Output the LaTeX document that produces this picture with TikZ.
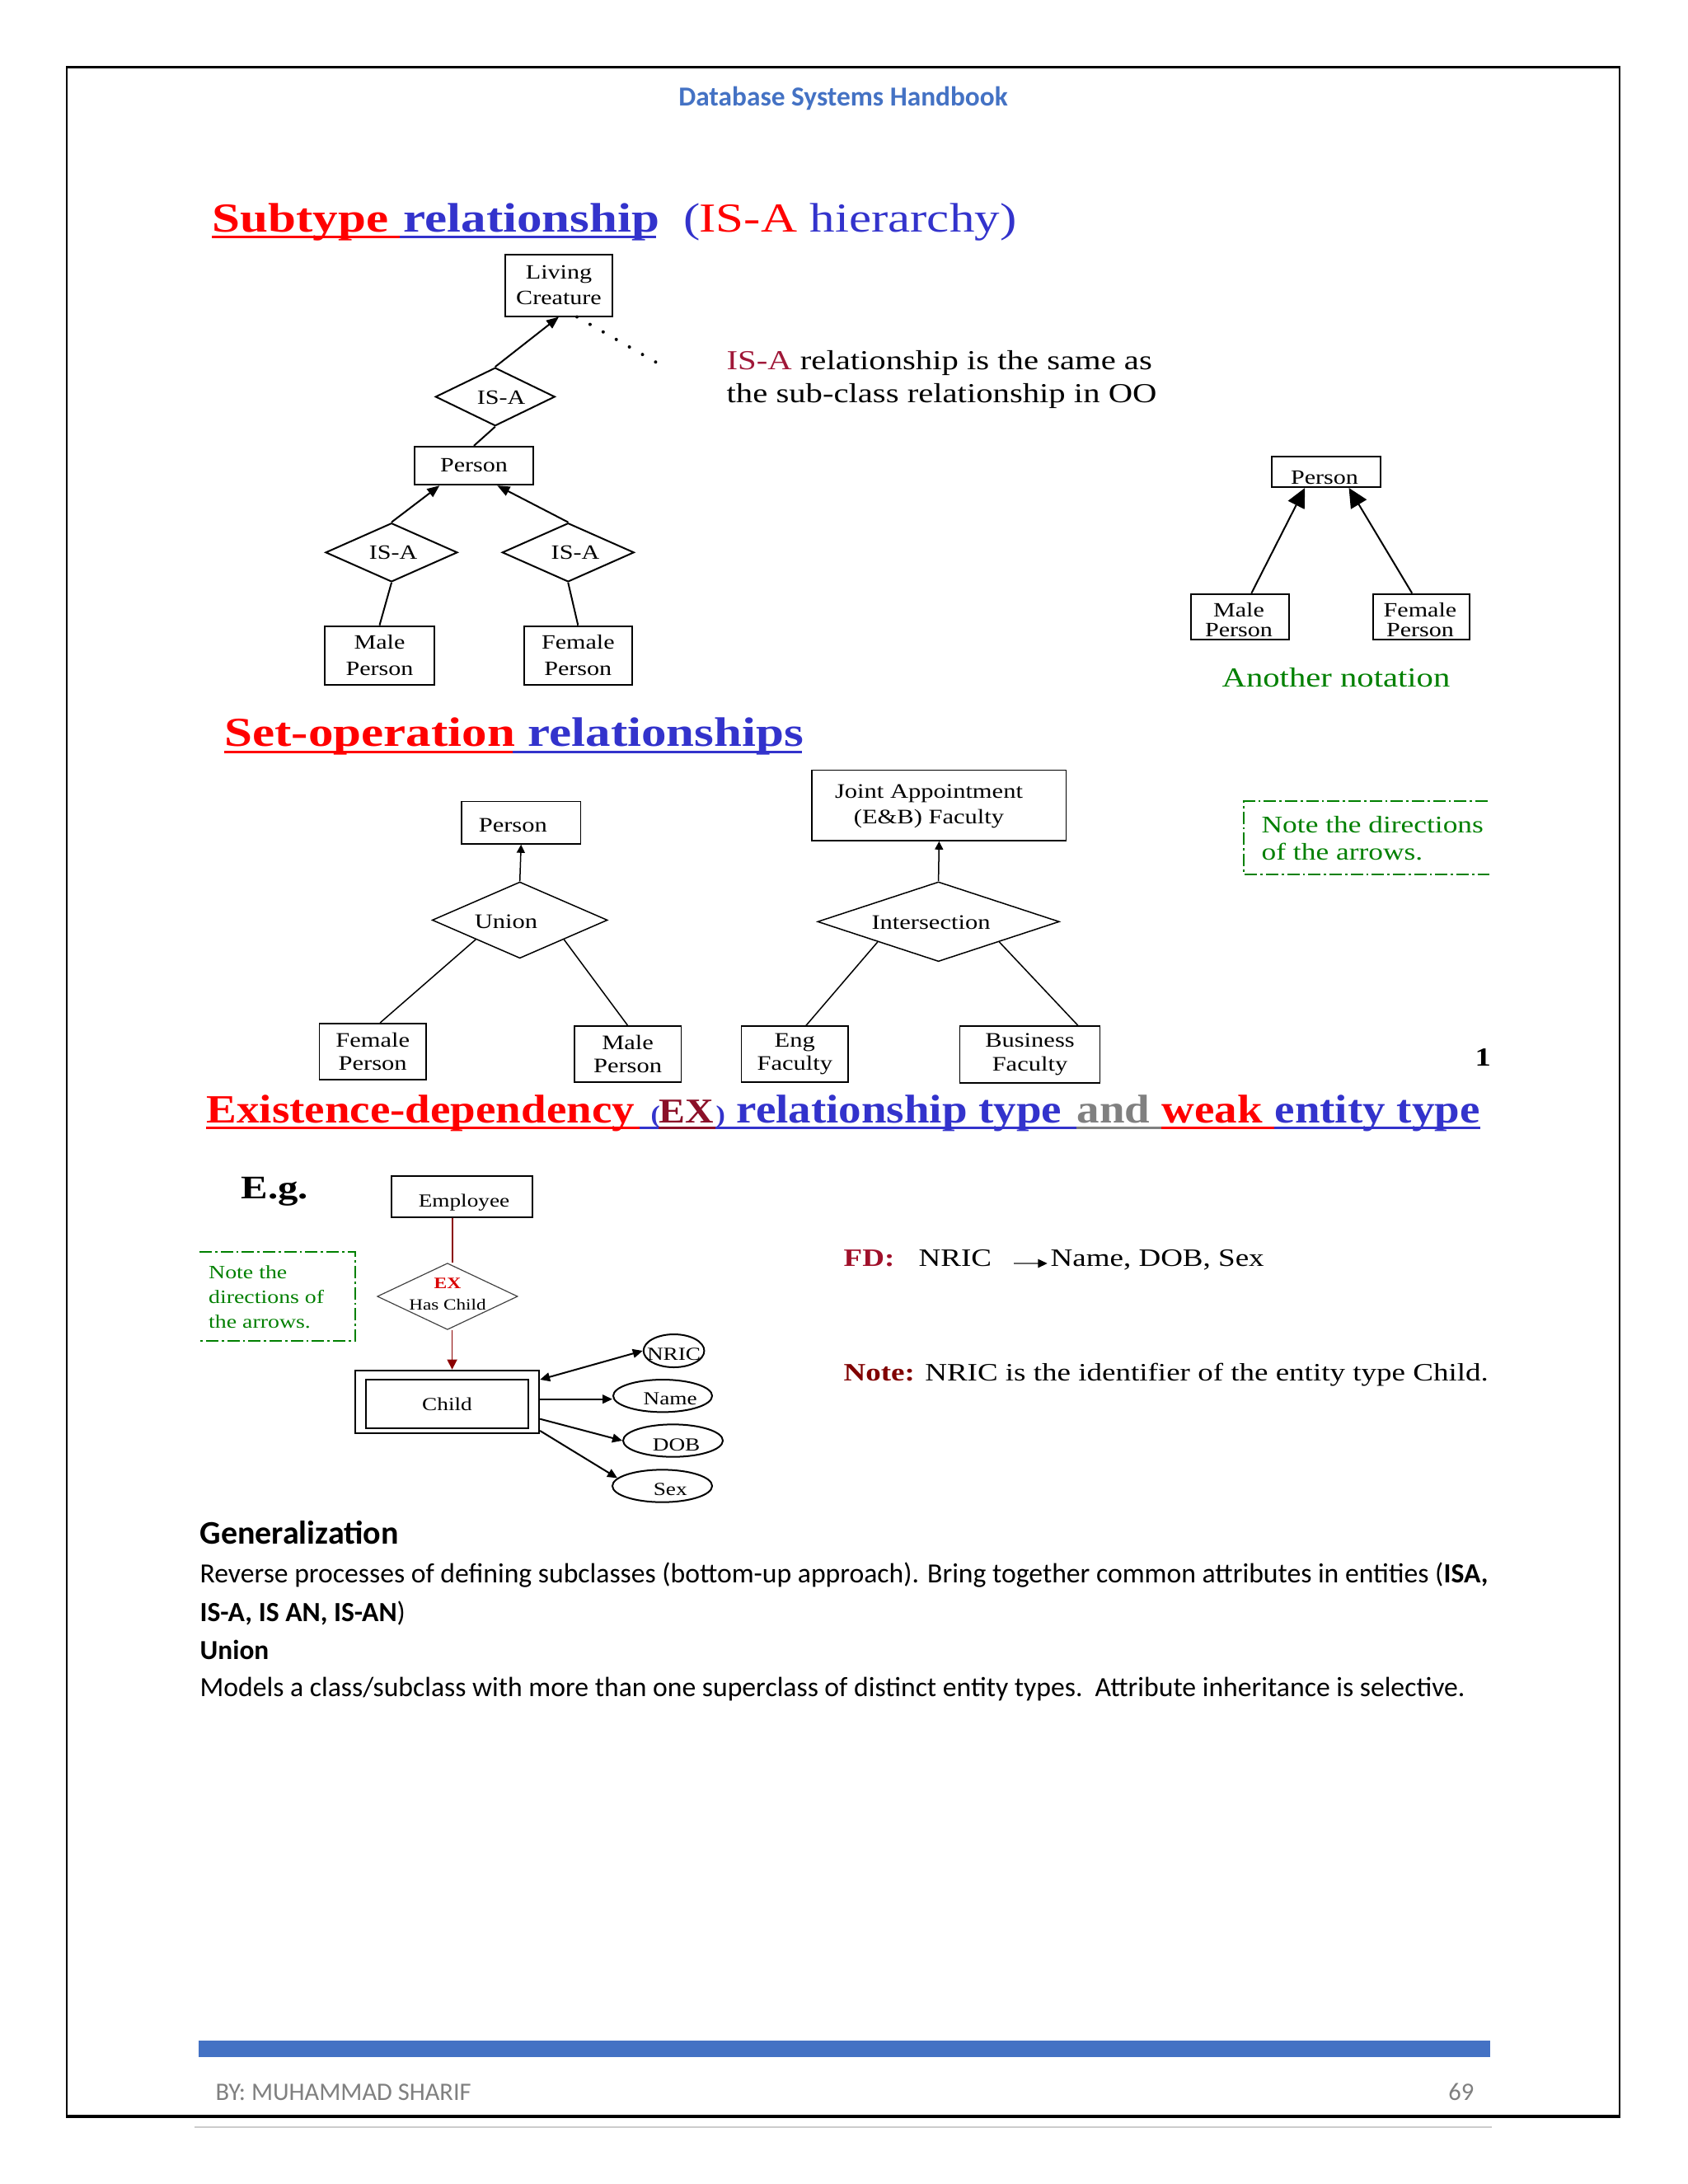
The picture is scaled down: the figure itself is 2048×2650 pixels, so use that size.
\documentclass[tikz,border=0pt]{standalone}
\usepackage{fontspec}
\setmainfont{Liberation Serif}
\newfontfamily\tms[FakeStretch=1.22]{Liberation Serif}
\newfontfamily\tmsc[FakeStretch=1.13]{Liberation Serif}
\newfontfamily\calfont{Carlito}
\usetikzlibrary{arrows.meta,shapes.geometric,calc}
\definecolor{tred}{HTML}{FF0000}
\definecolor{tblue}{HTML}{3333CC}
\definecolor{tmaroon}{HTML}{8B1028}
\definecolor{tgray}{HTML}{808080}
\definecolor{tgreen}{HTML}{008000}
\definecolor{hblue}{HTML}{4472C4}
\definecolor{crim}{HTML}{A01838}
\definecolor{mline}{HTML}{8B0000}
\definecolor{fdred}{HTML}{A0102A}
\definecolor{notered}{HTML}{800000}
\begin{document}
\begin{tikzpicture}[x=0.3pt,y=-0.3pt,
  ent/.style={draw, line width=0.6pt, inner sep=0pt, align=center},
  ent3/.style={draw, line width=0.45pt, inner sep=0pt, align=center},
  dia/.style={draw, diamond, inner sep=0pt, line width=0.6pt},
  dia3/.style={draw, diamond, inner sep=0pt, line width=0.45pt},
  dia4/.style={draw=black!75, diamond, inner sep=0pt, line width=0.35pt},
  ell/.style={draw, ellipse, inner sep=0pt, line width=0.6pt},
  lbl/.style={inner sep=0pt},
  f1/.style={font=\tms\fontsize{7.4pt}{9.5pt}\selectfont},
  f2/.style={font=\tms\fontsize{7.4pt}{7.2pt}\selectfont},
  f3/.style={font=\tms\fontsize{7.5pt}{8.5pt}\selectfont},
  f4/.style={font=\tms\fontsize{6.7pt}{8pt}\selectfont},
  tnode/.style={anchor=base west, inner sep=0pt, font=\tms\fontsize{15pt}{18pt}\selectfont},
  tnodec/.style={anchor=base west, inner sep=0pt, font=\tmsc\bfseries\fontsize{14.6pt}{17pt}\selectfont},
  tparen/.style={anchor=base west, inner sep=0pt, font=\tmsc\bfseries\fontsize{9pt}{10pt}\selectfont, text=tblue},
  btxt/.style={anchor=base west, inner sep=0pt, font=\tms\fontsize{10pt}{12pt}\selectfont},
  ntxt/.style={anchor=base west, inner sep=0pt, font=\tms\fontsize{8.7pt}{10pt}\selectfont, text=tgreen},
  ntxtb/.style={anchor=base west, inner sep=0pt, font=\tms\fontsize{6.85pt}{8pt}\selectfont, text=tgreen},
  fdtxt/.style={anchor=base west, inner sep=0pt, font=\tms\fontsize{9.1pt}{11pt}\selectfont},
  body/.style={anchor=base west, inner sep=0pt, font=\calfont\fontsize{10.1pt}{12.4pt}\selectfont},
  uline/.style={line width=0.9pt},
  ln1/.style={line width=0.6pt},
  ln3/.style={line width=0.45pt},
  arr1/.style={line width=0.6pt, -{Triangle[length=4.5pt,width=3.6pt]}},
  arr2/.style={line width=0.6pt, -{Triangle[length=7pt,width=6.6pt]}},
  arr3/.style={line width=0.45pt, -{Triangle[length=3pt,width=3pt]}},
  arr4/.style={line width=0.6pt, -{Triangle[length=3.6pt,width=3.2pt]}},
  mln/.style={draw=mline, line width=0.5pt},
  dots/.style={line width=1.2pt, line cap=round, dash pattern=on 0pt off 5.5pt},
  notebox/.style={draw=tgreen, line width=0.5pt, dash pattern=on 4.5pt off 1.2pt on 0.8pt off 1.2pt}
]
\useasboundingbox (0,0) rectangle (2048,2650);
\fill[white] (0,0) rectangle (2048,2650);

% page frame
\draw[line width=0.6pt] (81,81) -- (81,2568);
\draw[line width=0.6pt] (1965,81) -- (1965,2568);
\draw[line width=0.9pt] (80,81) -- (1966,81);
\draw[line width=1.1pt] (80,2568) -- (1966,2568);
\draw[black!20, line width=0.6pt] (236,2581) -- (1810,2581);

% header
\node[anchor=base, inner sep=0pt, font=\calfont\bfseries\fontsize{10pt}{12pt}\selectfont, text=hblue] (hdr) at (1023,128) {Database Systems Handbook};

% ---------- Title 1 ----------
\node[tnode, text=tred] (t1a) at (257,281) {\bfseries Subtype};
\node[tnode, text=tblue] (t1b) at (489,281) {\bfseries relationship};
\node[tnode, text=tblue] (t1c) at (829,281) {(};
\node[tnode, text=tred] (t1d) at (848,281) {IS-A};
\node[tnode, text=tblue] (t1e) at (982,281) {hierarchy)};
\draw[uline, tred] (257,287) -- (485,287);
\draw[uline, tblue] (485,287) -- (796,287);

% ---------- Diagram 1 ----------
\node[ent, f1, minimum width=39.2pt, minimum height=22.5pt] (lc) at (678,346) {Living\\Creature};
\node[dia, minimum width=43.5pt, minimum height=21.2pt] (isa1) at (600.8,481.4) {};
\node[f1, lbl] (isa1t) at (608,482.5) {IS-A};
\node[ent, f1, minimum width=43.4pt, minimum height=13.9pt] (per1) at (575,565) {Person};
\node[dia, minimum width=48pt, minimum height=21.4pt] (isa2) at (475,670.3) {};
\node[f1, lbl] (isa2t) at (477,670.3) {IS-A};
\node[dia, minimum width=48pt, minimum height=21.4pt] (isa3) at (689.3,670.3) {};
\node[f1, lbl] (isa3t) at (698,670.3) {IS-A};
\node[ent, f1, minimum width=39.7pt, minimum height=21.4pt] (mp1) at (460.5,795.3) {Male\\Person};
\node[ent, f1, minimum width=39.2pt, minimum height=21.4pt] (fp1) at (701.3,795.3) {Female\\Person};
\coordinate (dotend) at (798,440.7);
\draw[arr1] (isa1.north) -- (lc.south);
\draw[dots] ([xshift=6.6pt]lc.south) -- (dotend);
\draw[ln1] (isa1.south) -- (per1.north);
\draw[arr1] (isa2.north) -- ([xshift=-12.5pt]per1.south);
\draw[arr1] (isa3.north) -- ([xshift=8.5pt]per1.south);
\draw[ln1] (isa2.south) -- (mp1.north);
\draw[ln1] (isa3.south) -- (fp1.north);

\node[btxt] (oo1) at (881,448) {\textcolor{crim}{IS-A} relationship is the same as};
\node[btxt] (oo2) at (881,488) {the sub-class relationship in OO};

% ---------- Another notation ----------
\node[ent, minimum width=39.7pt, minimum height=11.1pt] (per2) at (1608.9,572.5) {};
\node[f2, lbl, anchor=base] (per2t) at (1607,587) {Person};
\node[ent, minimum width=35.8pt, minimum height=16.5pt] (mp2) at (1504.7,748.2) {};
\node[f2, lbl, align=center, anchor=base] (mp2t) at (1503,772.3) {Male\\Person};
\node[ent, minimum width=35.3pt, minimum height=16.5pt] (fp2) at (1724.5,748.2) {};
\node[f2, lbl, align=center, anchor=base] (fp2t) at (1723,772.3) {Female\\Person};
\draw[arr2] ([xshift=4.1pt]mp2.north) -- ([xshift=-7.7pt]per2.south);
\draw[arr2] ([xshift=-3.4pt]fp2.north) -- ([xshift=8.3pt]per2.south);
\node[btxt, text=tgreen] (anot) at (1482,833) {Another notation};

% ---------- Title 2 ----------
\node[tnode, text=tred] (t2a) at (272,905) {\bfseries Set-operation};
\node[tnode, text=tblue] (t2b) at (640,905) {\bfseries relationships};
\draw[uline, tred] (272,912) -- (622,912);
\draw[uline, tblue] (622,912) -- (973,912);

% ---------- Set-operation diagram ----------
\node[ent3, minimum width=43.4pt, minimum height=15.5pt] (per3) at (632.2,998.2) {};
\node[f3, lbl] (per3t) at (622.3,1001.7) {Person};
\node[dia3, minimum width=63.8pt, minimum height=27.8pt] (uni) at (630.7,1116.4) {};
\node[f3, lbl] (unit) at (614,1118) {Union};
\node[ent3, f3, minimum width=38.9pt, minimum height=20.5pt] (fp3) at (452.2,1275.9) {Female\\Person};
\node[ent3, f3, minimum width=38.9pt, minimum height=20.3pt] (mp3) at (761.6,1278.9) {Male\\Person};
\node[ent3, minimum width=92.6pt, minimum height=25.7pt] (ja) at (1139.4,977.2) {};
\node[lbl, align=center, font=\tms\fontsize{7.5pt}{9.3pt}\selectfont] (jat) at (1127,978.5) {Joint Appointment\\(E\&B) Faculty};
\node[dia3, minimum width=88pt, minimum height=29pt] (inter) at (1138.6,1118.3) {};
\node[f3, lbl] (intert) at (1129.5,1119.3) {Intersection};
\node[ent3, f3, minimum width=38.9pt, minimum height=20.3pt] (eng) at (964.3,1278.9) {Eng\\Faculty};
\node[ent3, f3, minimum width=50.9pt, minimum height=20.7pt] (bus) at (1249.5,1279.5) {Business\\Faculty};
\draw[arr3] (uni.north) -- (per3.south);
\draw[ln3] (uni.south west) -- ([xshift=2.7pt]fp3.north);
\draw[ln3] (uni.south east) -- (mp3.north);
\draw[arr3] (inter.north) -- (ja.south);
\draw[ln3] (inter.south west) -- ([xshift=4.1pt]eng.north);
\draw[ln3] (inter.south east) -- ([xshift=17.5pt]bus.north);

% note box 1
\coordinate (nb1a) at (1805,972.3);
\coordinate (nb1b) at (1509.3,972.3);
\coordinate (nb1c) at (1509.3,1060.7);
\coordinate (nb1d) at (1806.7,1060.7);
\draw[notebox] (nb1a) -- (nb1b) -- (nb1c) -- (nb1d);
\node[ntxt] (nt1) at (1530,1010) {Note the directions};
\node[ntxt] (nt2) at (1530,1043) {of the arrows.};

\node[anchor=base west, inner sep=0pt, font=\tms\bfseries\fontsize{9.5pt}{11pt}\selectfont] (pg1) at (1789,1293) {1};

% ---------- Title 3 ----------
\node[tnodec, text=tred] (t3a) at (250,1362) {Existence-dependency};
\node[tparen] (t3b) at (789,1362) {(};
\node[tnodec, text=tmaroon, font=\tmsc\bfseries\fontsize{12.7pt}{15pt}\selectfont] (t3c) at (799,1362) {EX};
\node[tparen] (t3d) at (868,1362) {)};
\node[tnodec, text=tblue] (t3e) at (893,1362) {relationship type};
\node[tnodec, text=tgray] (t3f) at (1306,1362) {and};
\node[tnodec, text=tred] (t3g) at (1409,1362) {weak};
\node[tnodec, text=tblue] (t3h) at (1546,1362) {entity type};
\draw[uline, tred] (250,1368) -- (776,1368);
\draw[uline, tblue] (776,1368) -- (799,1368);
\draw[uline, tmaroon] (799,1368) -- (868,1368);
\draw[uline, tblue] (868,1368) -- (1306,1368);
\draw[uline, tgray] (1306,1368) -- (1409,1368);
\draw[uline, tred] (1409,1368) -- (1546,1368);
\draw[uline, tblue] (1546,1368) -- (1796,1368);

% ---------- E.g. diagram ----------
\node[anchor=base west, inner sep=0pt, font=\tms\bfseries\fontsize{12pt}{14pt}\selectfont] (eg) at (292,1454) {E.g.};
\node[ent, minimum width=51.4pt, minimum height=15.2pt] (emp) at (560.7,1452) {};
\node[f4, lbl, anchor=base] (empt) at (563,1464) {Employee};
\node[dia4, minimum width=51.1pt, minimum height=24.2pt] (exd) at (542.9,1573) {};
\node[lbl, font=\tms\bfseries\fontsize{5.8pt}{7pt}\selectfont, text=red!85!black] (exdt1) at (543,1556.7) {EX};
\node[lbl, font=\tms\fontsize{5.7pt}{7pt}\selectfont] (exdt2) at (543,1582.7) {Has Child};
\node[ent, minimum width=67pt, minimum height=23pt] (chd) at (542.5,1701) {};
\node[ent, f4, minimum width=59.2pt, minimum height=17.7pt] (chdin) at (542.5,1703.8) {Child};
\node[ell, minimum width=22.1pt, minimum height=12pt] (nric) at (817.6,1639) {};
\node[f4, lbl] (nrict) at (817.6,1643) {NRIC};
\node[ell, minimum width=36pt, minimum height=11.8pt] (nameel) at (804,1693.7) {};
\node[f4, lbl] (namet) at (813.2,1697) {Name};
\node[ell, minimum width=36.3pt, minimum height=11.8pt] (dob) at (816.5,1748) {};
\node[f4, lbl] (dobt) at (820.6,1753.5) {DOB};
\node[ell, minimum width=36.3pt, minimum height=11.8pt] (sex) at (803.5,1803) {};
\node[f4, lbl] (sext) at (813.2,1806.7) {Sex};
\draw[mln] ([xshift=-3.6pt]emp.south) -- ([xshift=-3.6pt]emp.south |- exd.north);
\draw[mln, -{Triangle[length=3.6pt,width=3.6pt]}] ([xshift=1.7pt]exd.south) -- ([xshift=1.7pt]exd.south |- chd.north);
\draw[line width=0.6pt, {Triangle[length=3.6pt,width=3.2pt]}-{Triangle[length=3.6pt,width=3.2pt]}] ([yshift=-3.7pt]chd.north east) -- (nric.west);
\draw[arr4] ([yshift=1pt]chd.east) -- ([yshift=1pt]chd.east -| nameel.west);
\draw[arr4] ([yshift=-6.2pt]chd.east) -- (dob.west);
\draw[arr4] ([yshift=1.3pt]chd.south east) -- (sex.170);

% note box 2
\coordinate (nb2a) at (242.1,1519.3);
\coordinate (nb2b) at (430.8,1519.3);
\coordinate (nb2c) at (430.8,1626.7);
\coordinate (nb2d) at (242.1,1626.7);
\draw[notebox] (nb2a) -- (nb2b) -- (nb2c) -- (nb2d);
\node[ntxtb] (nb2t1) at (252.5,1551.7) {Note the};
\node[ntxtb] (nb2t2) at (252.5,1581.7) {directions of};
\node[ntxtb] (nb2t3) at (252.5,1611.7) {the arrows.};

% FD text
\node[fdtxt] (fd) at (1023,1536) {\textcolor{fdred}{\bfseries FD:}};
\node[fdtxt] (fdl) at (1114,1536) {NRIC};
\coordinate (fda) at (1230,1533);
\coordinate (fdb) at (1271,1533);
\draw[black!60, line width=0.8pt, -{Triangle[length=3.5pt,width=3pt,color=black]}] (fda) -- (fdb);
\node[fdtxt] (fdr) at (1274,1536) {Name, DOB, Sex};
\node[fdtxt] (note) at (1023,1675) {\textcolor{notered}{\bfseries Note:} NRIC is the identifier of the entity type Child.};

% ---------- body text ----------
\node[body, font=\calfont\bfseries\fontsize{12pt}{14pt}\selectfont] (g1) at (242,1873) {Generalization};
\node[body] (g2) at (242,1920) {Reverse processes of defining subclasses (bottom-up approach). Bring together common attributes in entities (\textbf{ISA,}};
\node[body] (g3) at (242,1967) {\textbf{IS-A, IS AN, IS-AN})};
\node[body, font=\calfont\bfseries\fontsize{10pt}{12pt}\selectfont] (g4) at (242,2013) {Union};
\node[body] (g5) at (242,2058) {Models a class/subclass with more than one superclass of distinct entity types.\ \ Attribute inheritance is selective.};

% ---------- footer ----------
\fill[hblue] (241,2476) rectangle (1808,2495.7);
\node[anchor=base west, inner sep=0pt, font=\calfont\fontsize{9.15pt}{11pt}\selectfont, text=black!50] (ft) at (261,2548) {BY: MUHAMMAD SHARIF};
\node[anchor=base east, inner sep=0pt, font=\calfont\fontsize{9.15pt}{11pt}\selectfont, text=black!50] (pn) at (1789,2548) {69};
\end{tikzpicture}
\end{document}
